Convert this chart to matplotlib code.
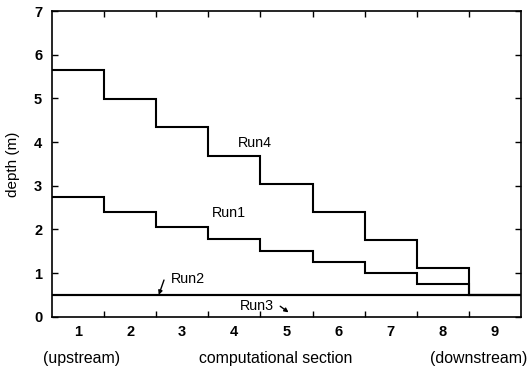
import matplotlib
matplotlib.use("Agg")
import matplotlib.pyplot as plt
import numpy as np

plt.rcParams['font.family'] = ['Liberation Sans', 'DejaVu Sans']

sections = [1, 2, 3, 4, 5, 6, 7, 8, 9]
run4 = [5.65, 4.99, 4.34, 3.69, 3.04, 2.39, 1.75, 1.12, 0.5]
run1 = [2.74, 2.39, 2.06, 1.78, 1.50, 1.25, 0.99, 0.74, 0.5]
run2 = [0.5, 0.5, 0.5, 0.5, 0.5, 0.5, 0.5, 0.5, 0.5]
run3 = [0.5, 0.5, 0.5, 0.5, 0.5, 0.5, 0.5, 0.5, 0.5]

fig = plt.figure(figsize=(5.30, 3.67), dpi=100)
ax = fig.add_axes([0.098, 0.137, 0.885, 0.833])

x = np.array(sections)
edges = np.append(x - 0.5, x[-1] + 0.5)
for run in (run4, run1, run2, run3):
    ax.stairs(run, edges, color='black', linewidth=1.5, baseline=None)

ax.set_xlim(0.5, 9.5)
ax.set_ylim(0, 7)
# ticks sit between the sections, labels sit on them
ax.set_xticks(x[:-1] + 0.5)
ax.set_xticklabels([])
ax.set_xticks(x, minor=True)
ax.set_xticklabels([str(s) for s in sections], minor=True, fontsize=10.5)
ax.set_yticks(range(0, 8))
ax.tick_params(which='major', direction='in', top=True, right=True, length=4, width=1, labelsize=10.5)
ax.tick_params(which='minor', length=0, pad=6)
ax.tick_params(axis='y', pad=7)
for lab in ax.get_xticklabels(minor=True) + ax.get_yticklabels():
    lab.set_fontweight('bold')
for s in ax.spines.values():
    s.set_linewidth(1.2)

ax.set_ylabel('depth (m)', fontsize=11, labelpad=10)

ax.text(4.4, 3.98, 'Run4', ha='center', va='center', fontsize=10.3)
ax.text(3.9, 2.38, 'Run1', ha='center', va='center', fontsize=10.3)
ax.text(2.78, 0.86, 'Run2', ha='left', va='center', fontsize=10.3)
ax.annotate('', xy=(2.55, 0.5), xytext=(2.65, 0.84),
            arrowprops=dict(arrowstyle='-|>', color='black', lw=1, mutation_scale=6, shrinkA=0, shrinkB=0))
ax.text(4.1, 0.25, 'Run3', ha='left', va='center', fontsize=10.3)
ax.annotate('', xy=(5.04, 0.1), xytext=(4.88, 0.24),
            arrowprops=dict(arrowstyle='-|>', color='black', lw=1, mutation_scale=6, shrinkA=0, shrinkB=0))

fig.text(82 / 530, 1 - 358 / 367, '(upstream)', ha='center', va='center', fontsize=11.4)
fig.text(276 / 530, 1 - 358 / 367, 'computational section', ha='center', va='center', fontsize=11.4)
fig.text(479 / 530, 1 - 358 / 367, '(downstream)', ha='center', va='center', fontsize=11.4)

fig.savefig('out.png', dpi=100)
